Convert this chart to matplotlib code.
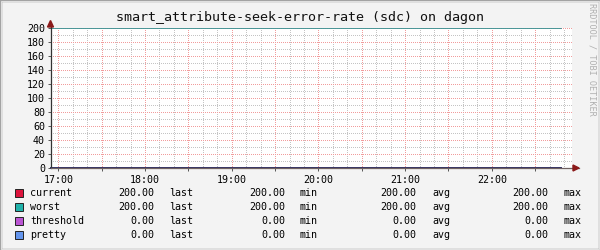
import matplotlib
matplotlib.use("Agg")
import matplotlib.pyplot as plt
from matplotlib.ticker import MultipleLocator, FuncFormatter
from matplotlib.patches import Rectangle, Polygon

plt.rcParams['font.family'] = ['DejaVu Sans Mono', 'DejaVu Sans']

# Data.
title = 'smart_attribute-seek-error-rate (sdc) on dagon'
sample_times = ['16:55', '22:48']
current = [200, 200]
worst = [200, 200]
threshold = [0, 0]
pretty = [0, 0]

series_names = ['current', 'worst', 'threshold', 'pretty']
series_colors = ['#DC143C', '#20B2AA', '#BA55D3', '#6495ED']
stat_last = ['200.00', '200.00', '0.00', '0.00']
stat_min = ['200.00', '200.00', '0.00', '0.00']
stat_avg = ['200.00', '200.00', '0.00', '0.00']
stat_max = ['200.00', '200.00', '0.00', '0.00']


def to_hours(s):
    h, m = s.split(':')
    return int(h) + int(m) / 60.0


t = [to_hours(s) for s in sample_times]

W, H = 600, 250
fig = plt.figure(figsize=(6, 2.5), dpi=100, facecolor='#F3F3F3')


def px(x, y):
    return x / W, 1 - y / H


# frame around the image
fig.patches.append(Rectangle((0, 0), 1, 1, transform=fig.transFigure, fill=False,
                             edgecolor='#A0A0A0', linewidth=2.5))
fig.patches.append(Rectangle((0.0015, 0.004), 0.996, 0.992, transform=fig.transFigure, fill=False,
                             edgecolor='#E0E0E0', linewidth=0.8))

left, right, top, bottom = 50.5, 572, 28, 168
ax = fig.add_axes([left / W, 1 - bottom / H, (right - left) / W, (bottom - top) / H])
ax.set_facecolor('white')

ax.set_xlim(16.91, 22.925)
ax.set_ylim(0, 200)

ax.yaxis.set_major_locator(MultipleLocator(20))
ax.yaxis.set_minor_locator(MultipleLocator(10))
ax.xaxis.set_major_locator(MultipleLocator(0.5))
ax.xaxis.set_minor_locator(MultipleLocator(1 / 6))


def hour_fmt(v, pos):
    if abs(v - round(v)) < 1e-6:
        return '%d:00' % round(v)
    return ''


ax.xaxis.set_major_formatter(FuncFormatter(hour_fmt))

ax.grid(which='minor', color='#C4C4C4', linestyle=(0, (1, 2)), linewidth=0.72, antialiased=False)
ax.grid(which='major', color='#F19C9C', linestyle=(0, (1, 2)), linewidth=0.72, antialiased=False)
ax.set_axisbelow(True)

ax.plot(t, current, color=series_colors[0], linewidth=1.1)
ax.plot(t, worst, color=series_colors[1], linewidth=1.1)
ax.plot(t, threshold, color='#333366', linewidth=1.3, clip_on=False)
ax.plot(t, pretty, color='#333366', linewidth=1.3, clip_on=False)

for s in ['top', 'right']:
    ax.spines[s].set_visible(False)
ax.spines['left'].set_color('#333333')
ax.spines['bottom'].set_color('#6E6060')
ax.spines['left'].set_linewidth(0.9)
ax.spines['bottom'].set_linewidth(0.9)
ax.spines['left'].set_bounds(0, 204)
ax.spines['bottom'].set_bounds(16.91, 23.0)

ax.tick_params(which='both', length=2, width=0.7, color='#555555', labelsize=7.2, pad=2)
ax.tick_params(which='minor', length=0)
ax.tick_params(axis='x', pad=3)

# arrows at axis ends
fig.patches.append(Polygon([px(47.5, 27), px(53.5, 27), px(50.5, 20.5)], closed=True,
                           transform=fig.transFigure, color='#8B1A1A'))
fig.patches.append(Polygon([px(573, 165), px(573, 171), px(579, 168)], closed=True,
                           transform=fig.transFigure, color='#8B1A1A'))

fig.text(*px(300, 18), title, ha='center', va='center', fontsize=9.6, color='#111111')
fig.text(*px(592, 59), 'RRDTOOL / TOBI OETIKER', rotation=270, ha='center', va='center',
         fontsize=6.1, color='#B0B0B0')

row_y = [193, 207, 221, 235]
for i in range(len(series_names)):
    y = row_y[i]
    fig.patches.append(Rectangle(px(15, y + 4), 8 / W, 8 / H, transform=fig.transFigure,
                                 facecolor=series_colors[i], edgecolor='#222222', linewidth=0.7))
    fig.text(*px(30, y), series_names[i], ha='left', va='center', fontsize=7.2)
    fig.text(*px(154, y), stat_last[i], ha='right', va='center', fontsize=7.2)
    fig.text(*px(169, y), 'last', ha='left', va='center', fontsize=7.2)
    fig.text(*px(285, y), stat_min[i], ha='right', va='center', fontsize=7.2)
    fig.text(*px(300, y), 'min', ha='left', va='center', fontsize=7.2)
    fig.text(*px(416.5, y), stat_avg[i], ha='right', va='center', fontsize=7.2)
    fig.text(*px(432, y), 'avg', ha='left', va='center', fontsize=7.2)
    fig.text(*px(548, y), stat_max[i], ha='right', va='center', fontsize=7.2)
    fig.text(*px(563, y), 'max', ha='left', va='center', fontsize=7.2)

fig.savefig('out.png', dpi=100, facecolor=fig.get_facecolor())
